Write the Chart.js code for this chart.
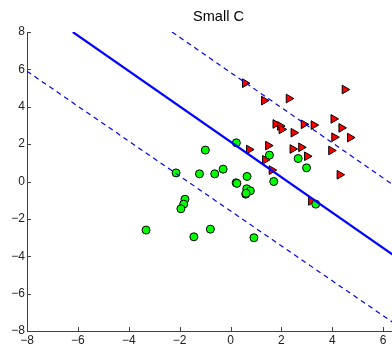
<!DOCTYPE html>
<html>
<head>
<meta charset="utf-8">
<script src="https://cdn.jsdelivr.net/npm/chart.js@4/dist/chart.umd.min.js"></script>
<style>
  html, body { margin: 0; padding: 0; background: #fff; overflow: hidden; }
  #wrap { width: 440px; height: 347px; }
</style>
</head>
<body>
<div id="wrap"><canvas id="myChart" width="440" height="347"></canvas></div>
<script>
const ctx = document.querySelector("#myChart");

// class -1 (green circles)
const verdeX = [0.23, -0.99, -2.14, -1.22, -0.62, -0.29, 0.22, 0.25, 0.65, 0.64, 0.78, 0.60, 0.61, 1.53, 1.70, 2.66, 2.99, 3.35, -1.79, -1.84, -1.95, -3.32, -1.44, -0.79, 0.92];
const verdeY = [2.07, 1.68, 0.46, 0.41, 0.41, 0.66, -0.07, -0.10, 0.27, -0.39, -0.50, -0.68, -0.63, 1.41, 0.00, 1.23, 0.73, -1.21, -0.95, -1.21, -1.46, -2.60, -2.96, -2.55, -3.01];

// class +1 (red triangles)
const rojoX = [0.57, 1.32, 2.29, 4.49, 4.05, 4.36, 4.70, 4.08, 3.96, 4.29, 1.77, 1.95, 2.01, 2.48, 2.88, 3.27, 1.48, 0.73, 2.44, 2.78, 3.01, 1.36, 1.62, 3.17];
const rojoY = [5.26, 4.33, 4.44, 4.92, 3.35, 2.87, 2.35, 2.37, 1.66, 0.36, 3.08, 2.97, 2.79, 2.61, 3.06, 3.02, 1.92, 1.71, 1.74, 1.83, 1.35, 1.16, 0.61, -1.04];

// separating line and margins (end points)
const lineaX = [-6.2, 8];
const lineaY = [8, -5.45];
const margenSupX = [-2.3, 8];
const margenSupY = [8, -1.69];
const margenInfX = [-8, 8];
const margenInfY = [5.9, -9.05];

const xTicks = [-8, -6, -4, -2, 0, 2, 4, 6, 8];
const yTicks = [-8, -6, -4, -2, 0, 2, 4, 6, 8];

const puntos = (xs, ys) => xs.map((x, i) => ({ x: x, y: ys[i] }));
const menos = (v) => String(v).replace('-', '\u2212');

const ticksDentro = {
    id: 'ticksDentro',
    afterDraw(chart) {
        const c = chart.ctx;
        const a = chart.chartArea;
        const sx = chart.scales.x;
        const sy = chart.scales.y;
        c.save();
        c.strokeStyle = '#404040';
        c.lineWidth = 1;
        c.beginPath();
        xTicks.forEach(v => {
            const px = Math.round(sx.getPixelForValue(v)) + 0.5;
            c.moveTo(px, a.bottom);
            c.lineTo(px, a.bottom - 4);
        });
        yTicks.forEach(v => {
            const py = Math.round(sy.getPixelForValue(v)) + 0.5;
            c.moveTo(a.left, py);
            c.lineTo(a.left + 4, py);
        });
        c.stroke();
        c.restore();
    }
};

const myChart = new Chart(ctx, {
    type: 'scatter',
    data: {
        datasets: [
            {
                type: 'line',
                data: puntos(lineaX, lineaY),
                borderColor: '#0000ff',
                borderWidth: 2.2,
                pointRadius: 0,
                fill: false,
                order: 0
            },
            {
                type: 'line',
                data: puntos(margenSupX, margenSupY),
                borderColor: '#0000ff',
                borderWidth: 1.2,
                borderDash: [5, 4],
                pointRadius: 0,
                fill: false,
                order: 0
            },
            {
                type: 'line',
                data: puntos(margenInfX, margenInfY),
                borderColor: '#0000ff',
                borderWidth: 1.2,
                borderDash: [5, 4],
                pointRadius: 0,
                fill: false,
                order: 0
            },
            {
                data: puntos(verdeX, verdeY),
                backgroundColor: '#00ff00',
                borderColor: '#000000',
                borderWidth: 1,
                pointRadius: 4,
                pointStyle: 'circle',
                order: 1
            },
            {
                data: puntos(rojoX, rojoY),
                backgroundColor: '#ff0000',
                borderColor: '#000000',
                borderWidth: 1,
                pointRadius: 5,
                pointStyle: 'triangle',
                rotation: 90,
                order: 2
            }
        ]
    },
    options: {
        responsive: false,
        animation: false,
        layout: { padding: { left: 0, right: 3, top: 0, bottom: 0 } },
        plugins: {
            legend: { display: false },
            tooltip: { enabled: false },
            title: {
                display: true,
                text: 'Small C',
                color: '#000',
                font: { family: 'Liberation Sans, Arial, sans-serif', size: 14.5, weight: 'normal' },
                padding: { top: 8, bottom: 6.6 }
            }
        },
        scales: {
            x: {
                type: 'linear',
                min: -8,
                max: 8,
                afterBuildTicks: (s) => { s.ticks = xTicks.map(v => ({ value: v })); },
                afterFit: (s) => { s.height = 16; },
                grid: { display: false, drawTicks: false },
                border: { display: true, color: '#404040', width: 1 },
                ticks: {
                    padding: 2,
                    maxRotation: 0,
                    autoSkip: false,
                    color: '#222',
                    font: { family: 'Liberation Sans, Arial, sans-serif', size: 12 },
                    callback: (v) => menos(v)
                }
            },
            y: {
                type: 'linear',
                min: -8,
                max: 8,
                afterBuildTicks: (s) => { s.ticks = yTicks.map(v => ({ value: v })); },
                afterFit: (s) => { s.width = 27; },
                grid: { display: false, drawTicks: false },
                border: { display: true, color: '#404040', width: 1 },
                ticks: {
                    padding: 2,
                    autoSkip: false,
                    color: '#222',
                    font: { family: 'Liberation Sans, Arial, sans-serif', size: 12 },
                    callback: (v) => menos(v)
                }
            }
        }
    },
    plugins: [ticksDentro]
});
</script>
</body>
</html>
